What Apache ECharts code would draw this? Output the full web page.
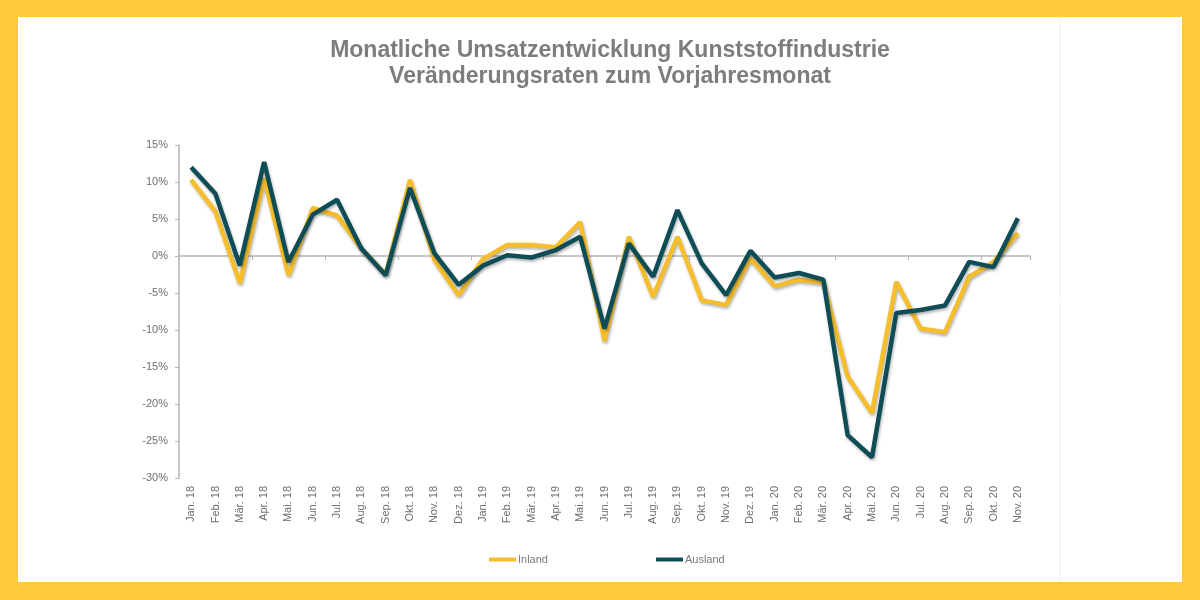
<!DOCTYPE html>
<html>
<head>
<meta charset="utf-8">
<script src="https://cdn.jsdelivr.net/npm/echarts@6/dist/echarts.min.js"></script>
<style>
  html, body { margin: 0; padding: 0; }
  #chart { width: 1200px; height: 600px; }
</style>
</head>
<body>
<div id="chart"></div>
<script>
var months = ['Jan. 18', 'Feb. 18', 'Mär. 18', 'Apr. 18', 'Mai. 18', 'Jun. 18', 'Jul. 18', 'Aug. 18', 'Sep. 18', 'Okt. 18', 'Nov. 18', 'Dez. 18',
	'Jan. 19', 'Feb. 19', 'Mär. 19', 'Apr. 19', 'Mai. 19', 'Jun. 19', 'Jul. 19', 'Aug. 19', 'Sep. 19', 'Okt. 19', 'Nov. 19', 'Dez. 19',
	'Jan. 20', 'Feb. 20', 'Mär. 20', 'Apr. 20', 'Mai. 20', 'Jun. 20', 'Jul. 20', 'Aug. 20', 'Sep. 20', 'Okt. 20', 'Nov. 20'];

var inland = [10.3, 6.0, -3.7, 10.5, -2.6, 6.5, 5.5, 1.0, -2.5, 10.3, -0.5, -5.3,
	-0.4, 1.5, 1.5, 1.2, 4.6, -11.5, 2.6, -5.5, 2.6, -6.0, -6.6, -0.3,
	-4.1, -3.2, -3.6, -16.3, -21.2, -3.5, -9.8, -10.3, -2.8, -0.8, 3.1];

var ausland = [12.0, 8.4, -1.3, 12.7, -0.8, 5.6, 7.6, 1.0, -2.6, 9.2, 0.4, -3.9,
	-1.3, 0.1, -0.2, 0.8, 2.6, -9.8, 1.7, -2.8, 6.2, -1.0, -5.3, 0.7,
	-2.9, -2.3, -3.2, -24.2, -27.2, -7.7, -7.3, -6.7, -0.8, -1.5, 5.1];

var chart = echarts.init(document.getElementById('chart'));

var option = {
	backgroundColor: '#FFC93C',
	animation: false,
	textStyle: { fontFamily: 'Liberation Sans, Arial, sans-serif' },
	graphic: [
		{ type: 'rect', z: -10, shape: { x: 18, y: 17, width: 1164, height: 565 }, style: { fill: '#fff' } },
		{ type: 'line', z: -9, shape: { x1: 1060, y1: 17, x2: 1060, y2: 582 }, style: { stroke: '#f1f1f1', lineWidth: 1 } }
	],
	title: {
		text: 'Monatliche Umsatzentwicklung Kunststoffindustrie\nVeränderungsraten zum Vorjahresmonat',
		left: 605,
		top: 33,
		textAlign: 'center',
		textStyle: {
			color: '#7d7d7d',
			fontSize: 23,
			fontWeight: 'bold',
			lineHeight: 26,
			fontFamily: 'Liberation Sans, Arial, sans-serif'
		}
	},
	legend: {
		left: 484,
		top: 549,
		itemGap: 108,
		itemWidth: 27,
		itemHeight: 4,
		icon: 'rect',
		textStyle: { color: '#7a7a7a', fontSize: 11, padding: [0, 0, 0, -3] },
		data: ['Inland', 'Ausland']
	},
	grid: {
		left: 179,
		right: 170,
		top: 145,
		bottom: 122
	},
	xAxis: [{
		type: 'category',
		data: months,
		boundaryGap: true,
		axisLine: { onZero: true, lineStyle: { color: '#b5b5b5', width: 1.5 } },
		axisTick: { show: true, length: 4, lineStyle: { color: '#b5b5b5' } },
		axisLabel: { show: false },
		splitLine: { show: false }
	}, {
		type: 'category',
		data: months,
		position: 'bottom',
		boundaryGap: true,
		axisLine: { show: false },
		axisTick: { show: false },
		splitLine: { show: false },
		axisLabel: {
			rotate: 90,
			interval: 0,
			margin: 8,
			color: '#6e6e6e',
			fontSize: 11
		}
	}],
	yAxis: {
		type: 'value',
		min: -30,
		max: 15,
		interval: 5,
		axisLine: { show: true, lineStyle: { color: '#b5b5b5', width: 1.5 } },
		axisTick: { show: true, length: 4, lineStyle: { color: '#b5b5b5' } },
		splitLine: { show: false },
		axisLabel: {
			margin: 11,
			color: '#6e6e6e',
			fontSize: 11,
			formatter: '{value}%'
		}
	},
	series: [{
		name: 'Inland',
		type: 'line',
		xAxisIndex: 0,
		data: inland,
		symbol: 'none',
		color: '#F7BE2B',
		lineStyle: {
			width: 4.5,
			color: '#F7BE2B',
			shadowColor: 'rgba(0,0,0,0.3)',
			shadowBlur: 3,
			shadowOffsetX: 1,
			shadowOffsetY: 2
		}
	}, {
		name: 'Ausland',
		type: 'line',
		xAxisIndex: 0,
		data: ausland,
		symbol: 'none',
		color: '#0E4D56',
		lineStyle: {
			width: 4.5,
			color: '#0E4D56',
			shadowColor: 'rgba(0,0,0,0.3)',
			shadowBlur: 3,
			shadowOffsetX: 1,
			shadowOffsetY: 2
		}
	}]
};

chart.setOption(option);
</script>
</body>
</html>
